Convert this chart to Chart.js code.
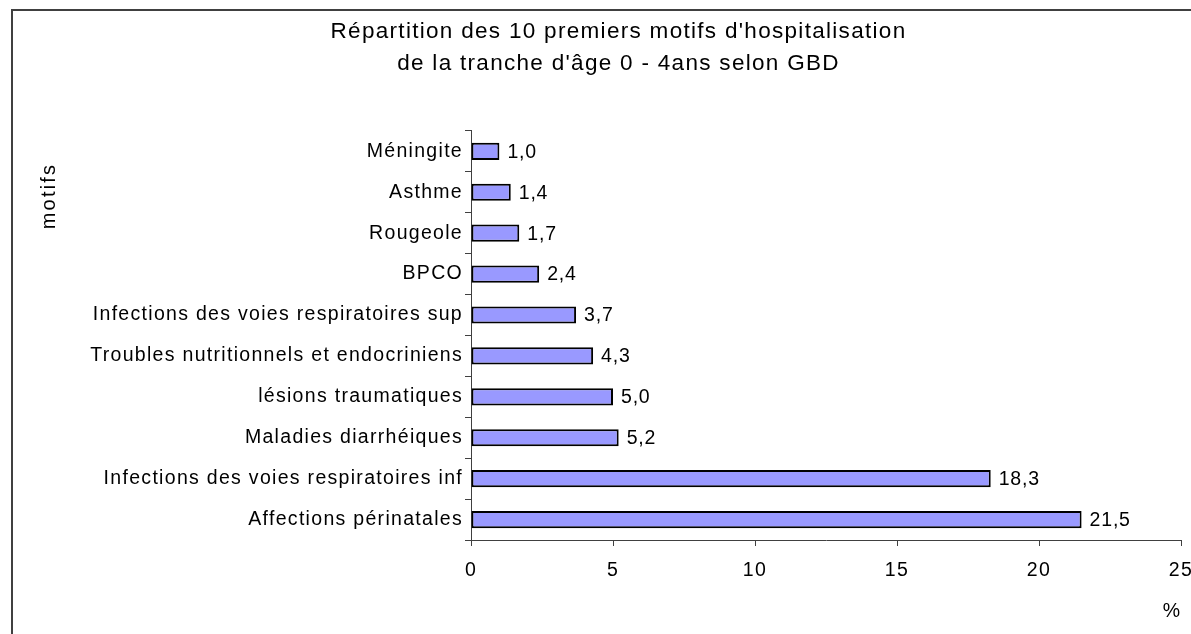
<!DOCTYPE html>
<html>
<head>
<meta charset="utf-8">
<script src="https://cdn.jsdelivr.net/npm/chart.js@4/dist/chart.umd.min.js"></script>
<style>
  html, body { margin: 0; padding: 0; background: #fff; }
  #wrap { width: 1191px; height: 634px; position: relative; }
</style>
</head>
<body>
<div id="wrap"><canvas id="c" width="1191" height="634"></canvas></div>
<script>
const categories = [
  "Méningite",
  "Asthme",
  "Rougeole",
  "BPCO",
  "Infections des voies respiratoires sup",
  "Troubles nutritionnels et endocriniens",
  "lésions traumatiques",
  "Maladies diarrhéiques",
  "Infections des voies respiratoires inf",
  "Affections périnatales"
];
const values = [1.0, 1.4, 1.7, 2.4, 3.7, 4.3, 5.0, 5.2, 18.3, 21.5];
const xTicks = [0, 5, 10, 15, 20, 25];
const titleLines = [
  "Répartition des 10 premiers motifs d'hospitalisation",
  "de la tranche d'âge 0 - 4ans selon GBD"
];
const yAxisTitle = "motifs";
const xAxisTitle = "%";

const FONT = "'Liberation Sans', Arial, sans-serif";
const SPACING = '1.3px';

const framePlugin = {
  id: 'frame',
  beforeUpdate(chart) {
    chart.ctx.letterSpacing = SPACING;
  },
  beforeDraw(chart) {
    const ctx = chart.ctx;
    ctx.letterSpacing = SPACING;
    ctx.save();
    ctx.fillStyle = '#fff';
    ctx.fillRect(0, 0, chart.width, chart.height);
    ctx.strokeStyle = '#404040';
    ctx.lineWidth = 2;
    ctx.strokeRect(12, 10, chart.width + 20, chart.height + 20);
    ctx.restore();
  },
  afterDraw(chart) {
    const ctx = chart.ctx;
    ctx.save();
    ctx.fillStyle = '#000';
    // y axis title
    ctx.save();
    ctx.font = '20px ' + FONT;
    ctx.letterSpacing = '2.2px';
    ctx.translate(49, 196);
    ctx.rotate(-Math.PI / 2);
    ctx.textAlign = 'center';
    ctx.textBaseline = 'middle';
    ctx.fillText(yAxisTitle, 0, 0);
    ctx.restore();
    // x axis title
    ctx.font = '19.5px ' + FONT;
    ctx.textAlign = 'center';
    ctx.textBaseline = 'middle';
    ctx.fillText(xAxisTitle, 1172, 612);
    ctx.restore();
  }
};

const valueLabels = {
  id: 'valueLabels',
  afterDatasetsDraw(chart) {
    const ctx = chart.ctx;
    const meta = chart.getDatasetMeta(0);
    ctx.save();
    ctx.fillStyle = '#000';
    ctx.font = '19.5px ' + FONT;
    ctx.letterSpacing = '0.8px';
    ctx.textAlign = 'left';
    ctx.textBaseline = 'middle';
    meta.data.forEach((bar, i) => {
      const txt = values[i].toFixed(1).replace('.', ',');
      ctx.fillText(txt, bar.x + 8, bar.y + 1);
    });
    ctx.restore();
  }
};

new Chart(document.getElementById('c'), {
  type: 'bar',
  data: {
    labels: categories,
    datasets: [{
      data: values,
      backgroundColor: '#9999FF',
      borderColor: '#000000',
      borderWidth: 2,
      borderSkipped: false,
      categoryPercentage: 1.0,
      barPercentage: 0.42
    }]
  },
  options: {
    indexAxis: 'y',
    responsive: false,
    animation: false,
    devicePixelRatio: 1,
    layout: { padding: { left: 56, right: 10, top: 0, bottom: 0 } },
    plugins: {
      legend: { display: false },
      tooltip: { enabled: false },
      title: {
        display: true,
        text: titleLines,
        color: '#000',
        font: { family: FONT, size: 22.5, weight: 'normal', lineHeight: 1.42 },
        padding: { top: 16, bottom: 51 }
      }
    },
    scales: {
      x: {
        type: 'linear',
        min: 0,
        max: 25,
        afterBuildTicks(scale) {
          scale.ticks = xTicks.map(v => ({ value: v }));
        },
        afterFit(scale) {
          scale.height = 94;
          scale.paddingLeft = 0;
          scale.paddingRight = 0;
        },
        grid: {
          display: true,
          drawOnChartArea: false,
          drawTicks: true,
          tickLength: 6,
          color: '#404040',
          lineWidth: 1
        },
        border: { display: true, color: '#404040', width: 1 },
        ticks: {
          color: '#000',
          font: { family: FONT, size: 19.5 },
          padding: 13,
          maxRotation: 0,
          autoSkip: false
        }
      },
      y: {
        type: 'category',
        offset: true,
        afterFit(scale) {
          scale.width = 415;
          scale.paddingTop = 0;
          scale.paddingBottom = 0;
        },
        grid: {
          display: true,
          offset: true,
          drawOnChartArea: false,
          drawTicks: true,
          tickLength: 6,
          color: '#404040',
          lineWidth: 1
        },
        border: { display: true, color: '#404040', width: 1 },
        ticks: {
          color: '#000',
          font: { family: FONT, size: 19.5 },
          padding: 2,
          autoSkip: false
        }
      }
    }
  },
  plugins: [framePlugin, valueLabels]
});
</script>
</body>
</html>
